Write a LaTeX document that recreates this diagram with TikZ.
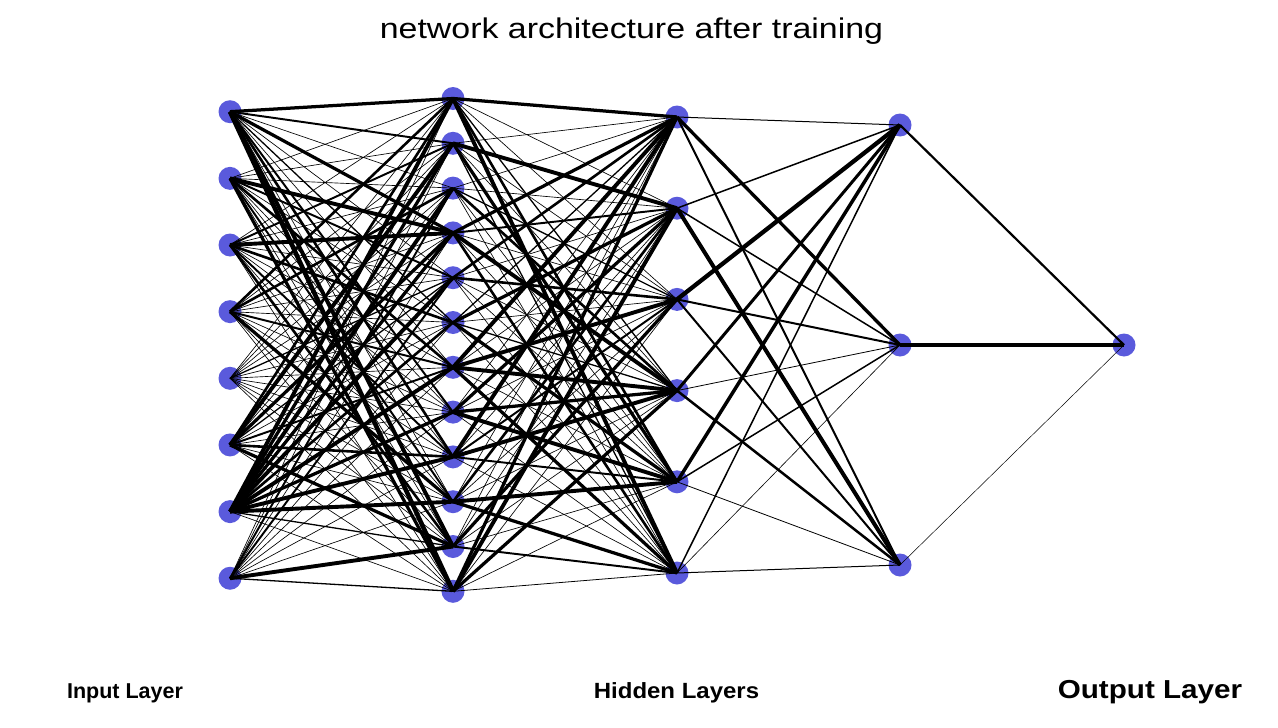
\documentclass[tikz,border=0pt]{standalone}
\usepackage{fontspec}
\setmainfont{Liberation Sans}
\usepackage{graphicx}
\definecolor{neuronblue}{RGB}{90,90,220}
\begin{document}
\begin{tikzpicture}[x=1pt,y=-1pt,
  neuron/.style={circle,fill=neuronblue,draw=none,minimum size=23pt,inner sep=0pt},
  edge/.style={draw=black},
  layerlabel/.style={anchor=base,font=\bfseries\fontsize{21.5}{26}\selectfont,inner sep=0pt},
  titlelabel/.style={anchor=base,font=\fontsize{28.5}{34}\selectfont,inner sep=0pt}]
\useasboundingbox (0,0) rectangle (1278,728);
% nodes
\foreach \k in {1,...,8} \node[neuron] (i\k) at (230,{111.7+66.65*(\k-1)}) {};
\foreach \k in {1,...,12} \node[neuron] (h\k) at (453,{98.5+44.8*(\k-1)}) {};
\foreach \k in {1,...,6} \node[neuron] (a\k) at (677,{117+91.2*(\k-1)}) {};
\foreach \k in {1,...,3} \node[neuron] (b\k) at (900,{125+220*(\k-1)}) {};
\node[neuron] (o1) at (1124,345) {};
% input -> hidden 1
\foreach \k/\ws in {
 1/{2.5,1.5,0.5,2.5,0.5,1,0.5,1.5,2,0.5,3,3.5},
 2/{0.5,0.5,0.5,3,1.5,0.5,2,0.5,0.5,1.5,0.5,2.5},
 3/{0.5,1.5,0.5,3,0.5,2,0.5,0.5,1.5,0.5,2,0.5},
 4/{2,0.5,2,0.5,0.5,0.5,1.5,0.5,0.5,2.5,0.5,0.5},
 5/{0.5,0.5,0.5,0.5,1,0.5,0.5,0.5,0.5,0.5,0.5,0.5},
 6/{2,3,0.5,2.5,1,0.5,1.5,0.5,2,0.5,2.5,0.5},
 7/{3,2.5,3,2.5,3,2,3,2.5,3,3,1,0.5},
 8/{0.5,0.5,1.5,0.5,1.5,0.5,0.5,0.5,0.5,0.5,3,1}}
 {\foreach \w [count=\j] in \ws {\pgfmathsetmacro\lw{max(0.6,1.3*\w)}\draw[edge,line width=\lw pt] (i\k.center) -- (h\j.center);}}
% hidden 1 -> hidden 2
\foreach \k/\ws in {
 1/{2.5,0.5,0.5,1,2,3},
 2/{0.5,3,0.5,0.5,2.5,1},
 3/{0.5,0.5,1,2,0.5,0.5},
 4/{2.5,1.5,0.5,3,0.5,2},
 5/{2,0.5,2,0.5,0.5,0.5},
 6/{1,2.5,0.5,1,2.5,0.5},
 7/{3,0.5,3,3,0.5,2.5},
 8/{0.5,2.5,0.5,2.5,3,0.5},
 9/{3,0.5,1.5,3,1.5,0.5},
 10/{0.5,2,0.5,0.5,3,2.5},
 11/{0.5,0.5,2.5,0.5,0.5,1.5},
 12/{2.5,3,0.5,2.5,0.5,0.6}}
 {\foreach \w [count=\j] in \ws {\pgfmathsetmacro\lw{max(0.6,1.3*\w)}\draw[edge,line width=\lw pt] (h\k.center) -- (a\j.center);}}
% hidden 2 -> hidden 3
\foreach \k/\ws in {
 1/{1,3.3,2},
 2/{1.5,1.5,4},
 3/{4.3,2,2},
 4/{3,0.8,2.5},
 5/{3.5,1.5,0.8},
 6/{1.5,0.6,1}}
 {\foreach \w [count=\j] in \ws {\draw[edge,line width=\w pt] (a\k.center) -- (b\j.center);}}
% hidden 3 -> output
\draw[edge,line width=2.2pt] (b1.center) -- (o1.center);
\draw[edge,line width=4pt] (b2.center) -- (o1.center);
\draw[edge,line width=0.5pt] (b3.center) -- (o1.center);
% labels
\node[titlelabel] (title) at (631.5,38) {\scalebox{1.19}[1]{network architecture after training}};
\node[layerlabel] (lin) at (125,698) {Input Layer};
\node[layerlabel,font=\bfseries\fontsize{22}{26}\selectfont] (lhid) at (676.5,698) {\scalebox{1.09}[1]{Hidden Layers}};
\node[layerlabel,font=\bfseries\fontsize{26}{30}\selectfont] (lout) at (1150,698) {\scalebox{1.14}[1]{Output Layer}};
\end{tikzpicture}
\end{document}
